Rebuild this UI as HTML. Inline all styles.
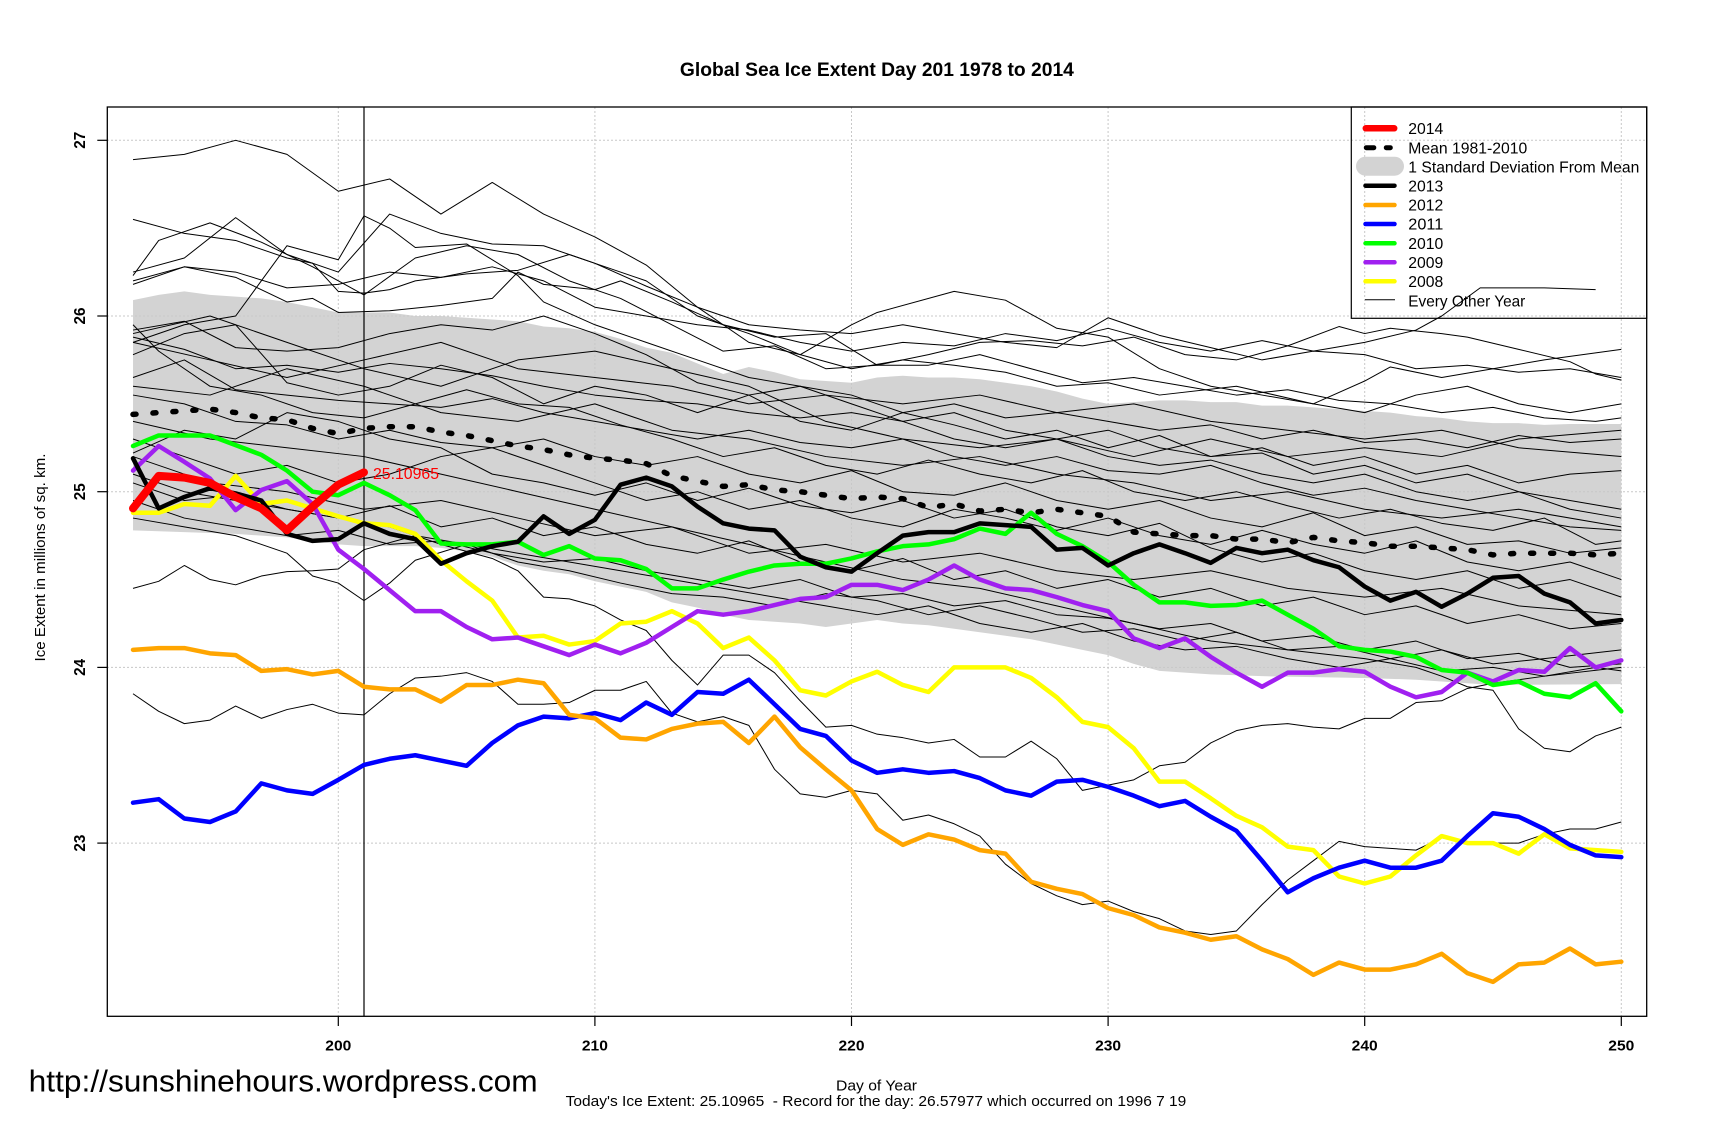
<!DOCTYPE html>
<html><head><meta charset="utf-8"><style>
html,body{margin:0;padding:0;background:#fff;}
svg{display:block;font-family:"Liberation Sans",Arial,sans-serif;}
.t{fill:none;stroke:#000;stroke-width:1;stroke-linejoin:round;}
.c{fill:none;stroke-linejoin:round;stroke-linecap:round;}
</style></head><body>
<svg width="1716" height="1143" viewBox="0 0 1716 1143" xmlns="http://www.w3.org/2000/svg">
<rect width="1716" height="1143" fill="#fff"/>
<defs><clipPath id="pc"><rect x="107.3" y="107" width="1539.4" height="909.3"/></clipPath></defs>

<g clip-path="url(#pc)">
<g transform="matrix(25.66 0 0 -175.7 -4793.7 4884.2)">
<polygon fill="#d3d3d3" stroke="none" points="192,26.09 193,26.12 194,26.14 195,26.12 196,26.11 197,26.10 198,26.08 199,26.05 200,26.02 201,26.02 202,26.02 203,26.0 204,26.0 205,25.99 206,25.98 207,25.97 208,25.94 209,25.93 210,25.91 211,25.87 212,25.82 213,25.79 214,25.73 215,25.67 216,25.71 217,25.68 218,25.64 219,25.63 220,25.62 221,25.65 222,25.66 223,25.65 224,25.65 225,25.64 226,25.62 227,25.60 228,25.57 229,25.53 230,25.50 231,25.51 232,25.52 233,25.52 234,25.51 235,25.51 236,25.49 237,25.49 238,25.48 239,25.47 240,25.46 241,25.45 242,25.43 243,25.42 244,25.40 245,25.39 246,25.39 247,25.38 248,25.385 249,25.385 250,25.385 250,23.905 245,23.90 244,23.91 242,23.93 240,23.94 238,23.945 236,23.95 235,23.955 234,23.96 233,23.97 232,23.98 231,24.02 230,24.07 229,24.10 228,24.13 227,24.16 226,24.18 225,24.20 224,24.22 223,24.24 222,24.25 221,24.27 220,24.25 219,24.23 218,24.25 217,24.26 216,24.27 215,24.30 214,24.34 213,24.37 212,24.43 211,24.46 210,24.49 209,24.53 208,24.55 207,24.58 206,24.63 205,24.66 204,24.68 203,24.69 202,24.69 201,24.69 200,24.70 198,24.74 196,24.76 194,24.77 192,24.78"/>
</g>
</g>

<!-- grid -->
<g stroke="#c8c8c8" stroke-width="1" stroke-dasharray="2 2" fill="none">
<line x1="338.3" y1="107" x2="338.3" y2="1016"/>
<line x1="594.9" y1="107" x2="594.9" y2="1016"/>
<line x1="851.5" y1="107" x2="851.5" y2="1016"/>
<line x1="1108.1" y1="107" x2="1108.1" y2="1016"/>
<line x1="1364.7" y1="107" x2="1364.7" y2="1016"/>
<line x1="1621.3" y1="107" x2="1621.3" y2="1016"/>
<line x1="107" y1="140.3" x2="1647" y2="140.3"/>
<line x1="107" y1="316" x2="1647" y2="316"/>
<line x1="107" y1="491.7" x2="1647" y2="491.7"/>
<line x1="107" y1="667.4" x2="1647" y2="667.4"/>
<line x1="107" y1="843.1" x2="1647" y2="843.1"/>
</g>

<g clip-path="url(#pc)">
<g transform="matrix(25.66 0 0 -175.7 -4793.7 4884.2)">
<polyline class="t" vector-effect="non-scaling-stroke" points="192,26.89 194,26.92 196,27.0 198,26.92 200,26.71 202,26.78 204,26.58 206,26.76 208,26.58 210,26.45 212,26.29 214,26.05 216,25.85 218,25.78 220,25.95 221,26.02 224,26.14 226,26.09 228,25.93 230,25.88 232,25.7 234,25.6 236,25.55 238,25.5 240,25.45 242,25.55 244,25.6 246,25.5 248,25.45 250,25.5"/>
<polyline class="t" vector-effect="non-scaling-stroke" points="192,26.55 194,26.47 196,26.43 198,26.33 199,26.3 200,26.14 201,26.13 202,26.15 203,26.2 205,26.24 207,26.26 209,26.35 210,26.3 212,26.17 214,26.05 216,25.95 218,25.92 220,25.9 222,25.95 224,25.9 226,25.85 228,25.82 230,25.99 232,25.89 234,25.82 236,25.75 238,25.8 240,25.78 242,25.7 244,25.72 246,25.68 248,25.7 250,25.65"/>
<polyline class="t" vector-effect="non-scaling-stroke" points="192,26.23 193,26.43 195,26.53 197,26.42 199,26.28 200,26.2 201,26.12 203,26.33 205,26.4 207,26.35 209,26.2 211,26.1 213,25.95 215,25.8 217,25.83 219,25.7 221,25.72 223,25.78 225,25.85 227,25.86 229,25.83 231,25.88 233,25.78 235,25.75 237,25.83 239,25.94 240,25.9 241,25.93 243,25.9 244,25.88 246,25.81 248,25.74 249,25.67 250,25.635"/>
<polyline class="t" vector-effect="non-scaling-stroke" points="192,26.25 194,26.33 196,26.56 198,26.35 200,26.25 202,26.58 204,26.47 206,26.41 208,26.4 210,26.3 212,26.2 214,26.0 216,25.9 218,25.78 220,25.7 222,25.75 224,25.72 226,25.68 228,25.6 230,25.62 232,25.55 235,25.6 238,25.5 240,25.63 241,25.71 243,25.65 245,25.7 247,25.75 250,25.81"/>
<polyline class="t" vector-effect="non-scaling-stroke" points="192,26.18 194,26.28 196,26.25 198,26.16 200,26.18 202,26.25 204,26.22 206,26.28 208,26.2 210,26.05 212,26.0 214,25.95 216,25.92 218,25.85 220,25.8 222,25.85 224,25.83 226,25.9 228,25.86 230,25.93 232,25.85 234,25.8 236,25.86 238,25.8 240,25.85 242,25.92 243,26.0 244.5,26.16 247,26.16 249,26.15"/>
<polyline class="t" vector-effect="non-scaling-stroke" points="192,25.85 194,25.95 196,26.0 198,26.4 200,26.32 201,26.57 202,26.5 203,26.39 205,26.41 207,26.23 208,26.08 210,25.95 212,25.85 214,25.75 216,25.65 218,25.6 220,25.55 222,25.45 224,25.5 226,25.42 228,25.45 230,25.4 232,25.35 234,25.38 236,25.3 238,25.35 240,25.28 242,25.3 244,25.25 246,25.32 248,25.28 250,25.3"/>
<polyline class="t" vector-effect="non-scaling-stroke" points="192,26.2 194,26.28 196,26.22 198,26.08 199,26.1 200,26.02 202,26.03 204,26.06 206,26.1 207,26.25 208,26.18 210,26.15 211,26.2 213,26.08 215,25.95 217,25.88 219,25.9 221,25.72 223,25.72 225,25.78 227,25.7 229,25.62 231,25.65 233,25.6 235,25.55 237,25.58 239,25.52 241,25.5 243,25.45 245,25.48 247,25.42 249,25.4 250,25.42"/>
<polyline class="t" vector-effect="non-scaling-stroke" points="192,25.92 194,25.97 196,25.82 198,25.8 200,25.82 202,25.9 204,25.95 206,25.92 208,26.0 210,25.9 212,25.78 214,25.62 216,25.55 218,25.6 220,25.5 222,25.4 224,25.45 226,25.35 228,25.3 230,25.35 232,25.25 234,25.2 236,25.22 238,25.1 240,25.15 242,25.05 244,25.1 246,25.0 248,24.95 250,24.9"/>
<polyline class="t" vector-effect="non-scaling-stroke" points="192,25.88 194,25.81 196,25.7 198,25.72 200,25.68 202,25.73 204,25.7 206,25.66 208,25.6 210,25.55 212,25.52 214,25.5 216,25.45 218,25.42 220,25.45 222,25.4 224,25.3 226,25.25 228,25.3 230,25.2 232,25.15 234,25.18 236,25.1 238,25.05 240,25.1 242,25.0 244,24.95 246,25.0 248,24.9 250,24.85"/>
<polyline class="t" vector-effect="non-scaling-stroke" points="192,25.65 194,25.75 196,25.58 198,25.55 200,25.52 202,25.5 204,25.48 206,25.53 208,25.45 210,25.4 212,25.35 214,25.3 216,25.35 218,25.28 220,25.25 222,25.3 224,25.2 226,25.15 228,25.2 230,25.12 232,25.1 234,25.15 236,25.05 238,24.98 240,25.02 242,24.95 244,24.9 246,24.85 248,24.8 250,24.78"/>
<polyline class="t" vector-effect="non-scaling-stroke" points="192,25.95 193,25.8 195,25.6 197,25.55 199,25.45 201,25.42 203,25.5 205,25.58 207,25.5 209,25.48 211,25.38 213,25.3 215,25.2 217,25.25 219,25.15 221,25.1 223,25.18 225,25.1 227,25.05 229,25.12 231,25.0 233,24.95 235,25.0 237,24.92 239,24.85 241,24.9 243,24.82 245,24.78 247,24.85 249,24.7 250,24.72"/>
<polyline class="t" vector-effect="non-scaling-stroke" points="192,25.78 194,25.9 196,25.95 198,25.62 200,25.55 202,25.6 204,25.72 206,25.65 208,25.5 210,25.6 212,25.55 214,25.45 216,25.55 218,25.4 220,25.35 222,25.45 224,25.38 226,25.3 228,25.35 230,25.25 232,25.32 234,25.2 236,25.25 238,25.15 240,25.2 242,25.1 244,25.15 246,25.05 248,25.1 250,25.12"/>
<polyline class="t" vector-effect="non-scaling-stroke" points="192,25.55 194,25.5 196,25.4 198,25.38 200,25.3 202,25.35 204,25.28 206,25.25 208,25.3 210,25.2 212,25.15 214,25.2 216,25.1 218,25.05 220,25.12 222,25.0 224,24.98 226,25.05 228,24.95 230,24.9 232,24.95 234,24.85 236,24.8 238,24.88 240,24.75 242,24.8 244,24.7 246,24.72 248,24.65 250,24.68"/>
<polyline class="t" vector-effect="non-scaling-stroke" points="192,25.3 194,25.2 196,25.1 198,25.15 200,25.05 202,25.1 204,25.2 206,25.25 208,25.15 210,25.05 212,24.95 214,25.0 216,24.9 218,24.95 220,24.85 222,24.8 224,24.9 226,24.85 228,24.78 230,24.85 232,24.75 234,24.7 236,24.78 238,24.7 240,24.65 242,24.72 244,24.6 246,24.55 248,24.6 250,24.5"/>
<polyline class="t" vector-effect="non-scaling-stroke" points="192,25.05 194,24.95 196,24.98 198,24.9 200,24.85 202,24.92 204,24.8 206,24.85 208,24.75 210,24.8 212,24.7 214,24.65 216,24.72 218,24.6 220,24.55 222,24.62 224,24.5 226,24.55 228,24.45 230,24.5 232,24.4 234,24.45 236,24.35 238,24.4 240,24.3 242,24.35 244,24.25 246,24.3 248,24.22 250,24.25"/>
<polyline class="t" vector-effect="non-scaling-stroke" points="192,24.95 194,24.85 196,24.8 198,24.75 200,24.78 202,24.7 204,24.72 206,24.65 208,24.6 210,24.62 212,24.55 214,24.5 216,24.45 218,24.5 220,24.4 222,24.42 224,24.35 226,24.38 228,24.3 230,24.28 232,24.22 234,24.25 236,24.15 238,24.18 240,24.1 242,24.15 244,24.05 246,24.08 248,24.0 250,24.02"/>
<polyline class="t" vector-effect="non-scaling-stroke" points="192,25.22 194,25.35 196,25.3 198,25.45 200,25.4 202,25.3 204,25.25 206,25.1 208,25.05 210,24.98 212,25.05 214,24.95 216,25.02 218,24.92 220,24.88 222,24.95 224,24.85 226,24.9 228,24.8 230,24.75 232,24.82 234,24.68 236,24.6 238,24.65 240,24.55 242,24.5 244,24.55 246,24.45 248,24.5 250,24.4"/>
<polyline class="t" vector-effect="non-scaling-stroke" points="192,24.45 193,24.49 194,24.58 195,24.50 196,24.47 197,24.52 198,24.545 199,24.55 200,24.56 201,24.67 203,24.75 205,24.7 207,24.65 209,24.6 211,24.55 213,24.5 215,24.45 217,24.4 219,24.35 221,24.3 223,24.35 225,24.25 227,24.2 229,24.25 231,24.15 233,24.1 235,24.12 237,24.05 239,24.0 241,24.05 243,23.98 245,24.0 247,23.95 249,24.0 250,23.98"/>
<polyline class="t" vector-effect="non-scaling-stroke" points="192,23.85 193,23.75 194,23.68 195,23.70 196,23.78 197,23.71 198,23.76 199,23.79 200,23.74 201,23.73 202,23.85 203,23.94 204,23.95 205,23.97 206,23.92 207,23.79 208,23.79 209,23.80 210,23.87 211,23.87 212,23.92 213,23.74 214,23.69 215,23.72 216,23.67 217,23.42 218,23.28 219,23.26 220,23.30 221,23.28 222,23.13 223,23.16 224,23.11 225,23.04 226,22.88 227,22.77 228,22.70 229,22.65 230,22.67 231,22.61 232,22.57 233,22.50 234,22.48 235,22.50 236,22.65 237,22.79 238,22.90 239,23.01 240,22.98 241,22.97 242,22.96 243,23.03 244,23.01 245,23.0 246,23.0 247,23.05 248,23.08 249,23.08 250,23.12"/>
<polyline class="t" vector-effect="non-scaling-stroke" points="192,24.85 194,24.8 196,24.75 198,24.65 199,24.52 200,24.48 201,24.38 202,24.48 203,24.61 205,24.7 207,24.6 209,24.55 211,24.48 213,24.42 215,24.4 217,24.35 219,24.42 221,24.38 223,24.3 225,24.35 227,24.28 229,24.2 231,24.22 233,24.15 235,24.2 237,24.1 239,24.12 241,24.05 243,24.1 245,24.02 247,24.05 250,24.1"/>
<polyline class="t" vector-effect="non-scaling-stroke" points="192,25.1 194,25.0 196,24.95 198,24.9 200,24.85 202,24.8 204,24.7 206,24.62 207,24.55 208,24.40 209,24.39 210,24.35 211,24.27 212,24.21 213,24.04 214,23.9 215,24.07 216,24.07 217,23.97 218,23.81 219,23.66 220,23.67 221,23.62 222,23.6 223,23.57 224,23.59 225,23.49 226,23.49 227,23.58 228,23.48 229,23.30 230,23.33 231,23.36 232,23.44 233,23.46 234,23.57 235,23.64 236,23.67 237,23.68 238,23.66 239,23.65 240,23.71 241,23.71 242,23.80 243,23.81 244,23.88 245,23.91 247,23.95 250,24.0"/>
<polyline class="t" vector-effect="non-scaling-stroke" points="192,25.4 195,25.3 198,25.25 201,25.2 204,25.1 207,25.0 210,24.9 213,24.8 216,24.7 219,24.6 222,24.5 225,24.45 228,24.35 231,24.25 234,24.15 237,24.1 240,24.05 242,24.0 243,23.95 244,23.89 245,23.87 246,23.65 247,23.54 248,23.52 249,23.61 250,23.66"/>
<polyline class="t" vector-effect="non-scaling-stroke" points="192,25.6 195,25.55 198,25.7 201,25.6 204,25.45 207,25.4 210,25.5 213,25.35 216,25.3 219,25.2 222,25.15 225,25.2 228,25.1 231,25.05 234,24.95 237,25.0 240,24.9 243,24.85 246,24.9 250,24.8"/>
<polyline class="t" vector-effect="non-scaling-stroke" points="192,25.85 195,25.75 198,25.65 201,25.75 204,25.85 207,25.7 210,25.65 213,25.6 216,25.5 219,25.55 222,25.5 225,25.55 228,25.45 231,25.5 234,25.4 237,25.35 240,25.3 243,25.35 246,25.25 250,25.2"/>
<polyline class="t" vector-effect="non-scaling-stroke" points="192,25.2 195,25.05 198,25.0 201,24.9 204,24.95 207,24.85 210,24.75 213,24.8 216,24.65 219,24.7 222,24.6 225,24.65 228,24.55 231,24.5 234,24.55 237,24.45 240,24.4 243,24.45 246,24.35 250,24.3"/>
<polyline class="t" vector-effect="non-scaling-stroke" points="192,25.9 195,26.0 198,25.85 201,25.7 204,25.6 207,25.75 210,25.8 213,25.7 216,25.6 219,25.4 222,25.3 225,25.25 228,25.3 231,25.2 234,25.3 237,25.2 240,25.25 243,25.2 246,25.3 250,25.35"/>
</g>
</g>

<!-- vertical line at day 201 -->
<line x1="364" y1="107" x2="364" y2="1016" stroke="#000" stroke-width="1.2"/>

<!-- mean line -->
<polyline fill="none" stroke="#000" stroke-width="5.5" stroke-linecap="round" stroke-linejoin="round" stroke-dasharray="3 17" points="133.0,414.4 158.7,412.6 184.3,410.9 210.0,409.1 235.7,412.6 261.3,417.9 287.0,419.7 312.6,428.4 338.3,433.7 364.0,428.4 389.6,426.7 415.3,426.7 440.9,432.0 466.6,435.5 492.3,440.7 517.9,446.0 543.6,449.5 569.2,454.8 594.9,458.3 620.6,460.1 646.2,463.6 671.9,475.9 697.5,481.2 723.2,486.4 748.9,484.7 774.5,489.9 800.2,491.7 825.8,495.2 851.5,498.7 877.2,497.0 902.8,498.7 928.5,507.5 954.1,504.0 979.8,511.0 1005.5,509.3 1031.1,512.8 1056.8,509.3 1082.4,512.8 1108.1,516.3 1133.8,532.1 1159.4,533.9 1185.1,535.6 1210.7,535.6 1236.4,539.1 1262.1,539.1 1287.7,542.7 1313.4,537.4 1339.0,540.9 1364.7,542.7 1390.4,546.2 1416.0,546.2 1441.7,547.9 1467.3,549.7 1493.0,554.9 1518.7,553.2 1544.3,553.2 1570.0,553.2 1595.6,554.9 1621.3,553.2"/>

<g clip-path="url(#pc)">
<g transform="matrix(25.66 0 0 -175.7 -4793.7 4884.2)">
<polyline class="c" vector-effect="non-scaling-stroke" stroke="#ffff00" stroke-width="4.5" points="192,24.88 193,24.88 194,24.93 195,24.92 196,25.09 197,24.93 198,24.95 199,24.905 200,24.86 201,24.82 202,24.81 203,24.76 204,24.61 205,24.49 206,24.38 207,24.17 208,24.18 209,24.13 210,24.15 211,24.25 212,24.26 213,24.32 214,24.25 215,24.11 216,24.17 217,24.04 218,23.87 219,23.84 220,23.92 221,23.975 222,23.90 223,23.86 224,24.0 225,24.0 226,24.0 227,23.94 228,23.83 229,23.69 230,23.66 231,23.54 232,23.35 233,23.35 234,23.255 235,23.155 236,23.09 237,22.98 238,22.96 239,22.81 240,22.77 241,22.81 242,22.93 243,23.04 244,23.0 245,23.0 246,22.94 247,23.05 248,22.97 249,22.96 250,22.95"/>
<polyline class="c" vector-effect="non-scaling-stroke" stroke="#a020f0" stroke-width="4.5" points="192,25.12 193,25.26 194,25.17 195,25.075 196,24.895 197,25.01 198,25.06 199,24.93 200,24.67 201,24.56 202,24.44 203,24.32 204,24.32 205,24.23 206,24.16 207,24.17 208,24.12 209,24.07 210,24.13 211,24.08 212,24.14 213,24.23 214,24.32 215,24.30 216,24.32 217,24.355 218,24.39 219,24.40 220,24.47 221,24.47 222,24.44 223,24.50 224,24.58 225,24.50 226,24.45 227,24.44 228,24.40 229,24.355 230,24.32 231,24.165 232,24.11 233,24.165 234,24.06 235,23.97 236,23.89 237,23.97 238,23.97 239,23.99 240,23.975 241,23.89 242,23.83 243,23.86 244,23.97 245,23.92 246,23.985 247,23.975 248,24.11 249,24.0 250,24.04"/>
<polyline class="c" vector-effect="non-scaling-stroke" stroke="#00ff00" stroke-width="4.5" points="192,25.26 193,25.32 194,25.32 195,25.32 196,25.265 197,25.21 198,25.12 199,25.0 200,24.98 201,25.05 202,24.98 203,24.895 204,24.705 205,24.70 206,24.70 207,24.715 208,24.64 209,24.69 210,24.62 211,24.61 212,24.56 213,24.45 214,24.45 215,24.50 216,24.545 217,24.58 218,24.59 219,24.59 220,24.62 221,24.66 222,24.69 223,24.70 224,24.73 225,24.79 226,24.76 227,24.88 228,24.76 229,24.69 230,24.60 231,24.47 232,24.37 233,24.37 234,24.35 235,24.355 236,24.38 237,24.30 238,24.22 239,24.12 240,24.10 241,24.09 242,24.06 243,23.985 244,23.97 245,23.90 246,23.92 247,23.85 248,23.83 249,23.91 250,23.75"/>
<polyline class="c" vector-effect="non-scaling-stroke" stroke="#0000ff" stroke-width="4.5" points="192,23.23 193,23.25 194,23.14 195,23.12 196,23.18 197,23.34 198,23.30 199,23.28 200,23.36 201,23.445 202,23.48 203,23.50 204,23.47 205,23.44 206,23.57 207,23.67 208,23.72 209,23.71 210,23.74 211,23.70 212,23.80 213,23.73 214,23.86 215,23.85 216,23.93 217,23.79 218,23.65 219,23.61 220,23.47 221,23.40 222,23.42 223,23.40 224,23.41 225,23.37 226,23.30 227,23.27 228,23.35 229,23.36 230,23.32 231,23.27 232,23.21 233,23.24 234,23.15 235,23.07 236,22.90 237,22.72 238,22.80 239,22.86 240,22.90 241,22.86 242,22.86 243,22.90 244,23.04 245,23.17 246,23.15 247,23.08 248,22.99 249,22.93 250,22.92"/>
<polyline class="c" vector-effect="non-scaling-stroke" stroke="#ffa500" stroke-width="4.5" points="192,24.10 193,24.11 194,24.11 195,24.08 196,24.07 197,23.98 198,23.99 199,23.96 200,23.98 201,23.89 202,23.875 203,23.875 204,23.805 205,23.90 206,23.90 207,23.93 208,23.91 209,23.73 210,23.71 211,23.60 212,23.59 213,23.65 214,23.68 215,23.69 216,23.57 217,23.72 218,23.545 219,23.42 220,23.30 221,23.08 222,22.99 223,23.05 224,23.02 225,22.96 226,22.94 227,22.78 228,22.74 229,22.71 230,22.63 231,22.59 232,22.52 233,22.49 234,22.45 235,22.47 236,22.395 237,22.34 238,22.25 239,22.32 240,22.28 241,22.28 242,22.31 243,22.37 244,22.26 245,22.21 246,22.31 247,22.32 248,22.40 249,22.31 250,22.325"/>
<polyline class="c" vector-effect="non-scaling-stroke" stroke="#000000" stroke-width="4.5" points="192,25.19 193,24.905 194,24.97 195,25.02 196,24.99 197,24.95 198,24.76 199,24.72 200,24.73 201,24.82 202,24.76 203,24.73 204,24.59 205,24.65 206,24.69 207,24.715 208,24.86 209,24.76 210,24.84 211,25.04 212,25.08 213,25.03 214,24.915 215,24.82 216,24.79 217,24.78 218,24.63 219,24.57 220,24.545 221,24.65 222,24.75 223,24.77 224,24.77 225,24.82 226,24.81 227,24.80 228,24.67 229,24.68 230,24.58 231,24.65 232,24.70 233,24.65 234,24.595 235,24.68 236,24.65 237,24.67 238,24.61 239,24.57 240,24.46 241,24.38 242,24.43 243,24.345 244,24.42 245,24.51 246,24.52 247,24.42 248,24.37 249,24.25 250,24.27"/>
<polyline class="c" vector-effect="non-scaling-stroke" stroke="#ff0000" stroke-width="8" points="192,24.905 193,25.09 194,25.08 195,25.05 196,24.97 197,24.905 198,24.78 199,24.915 200,25.04 201,25.11"/>
</g>
</g>

<text x="373" y="479" font-size="16" fill="#ff0000" textLength="66" lengthAdjust="spacingAndGlyphs">25.10965</text>

<!-- plot box -->
<rect x="107.3" y="107" width="1539.4" height="909.3" fill="none" stroke="#000" stroke-width="1.3"/>

<!-- ticks -->
<g stroke="#000" stroke-width="1.2">
<line x1="338.3" y1="1016" x2="338.3" y2="1026"/>
<line x1="594.9" y1="1016" x2="594.9" y2="1026"/>
<line x1="851.5" y1="1016" x2="851.5" y2="1026"/>
<line x1="1108.1" y1="1016" x2="1108.1" y2="1026"/>
<line x1="1364.7" y1="1016" x2="1364.7" y2="1026"/>
<line x1="1621.3" y1="1016" x2="1621.3" y2="1026"/>
<line x1="97.3" y1="140.3" x2="107.3" y2="140.3"/>
<line x1="97.3" y1="316" x2="107.3" y2="316"/>
<line x1="97.3" y1="491.7" x2="107.3" y2="491.7"/>
<line x1="97.3" y1="667.4" x2="107.3" y2="667.4"/>
<line x1="97.3" y1="843.1" x2="107.3" y2="843.1"/>
</g>

<g font-size="15" font-weight="bold" text-anchor="middle" fill="#000">
<text x="338.3" y="1050.7" textLength="26" lengthAdjust="spacingAndGlyphs">200</text>
<text x="594.9" y="1050.7" textLength="26" lengthAdjust="spacingAndGlyphs">210</text>
<text x="851.5" y="1050.7" textLength="26" lengthAdjust="spacingAndGlyphs">220</text>
<text x="1108.1" y="1050.7" textLength="26" lengthAdjust="spacingAndGlyphs">230</text>
<text x="1364.7" y="1050.7" textLength="26" lengthAdjust="spacingAndGlyphs">240</text>
<text x="1621.3" y="1050.7" textLength="26" lengthAdjust="spacingAndGlyphs">250</text>
</g>
<g font-size="16" font-weight="bold" text-anchor="middle" fill="#000">
<text transform="translate(85,140.3) rotate(-90)" textLength="17" lengthAdjust="spacingAndGlyphs">27</text>
<text transform="translate(85,316) rotate(-90)" textLength="17" lengthAdjust="spacingAndGlyphs">26</text>
<text transform="translate(85,491.7) rotate(-90)" textLength="17" lengthAdjust="spacingAndGlyphs">25</text>
<text transform="translate(85,667.4) rotate(-90)" textLength="17" lengthAdjust="spacingAndGlyphs">24</text>
<text transform="translate(85,843.1) rotate(-90)" textLength="17" lengthAdjust="spacingAndGlyphs">23</text>
</g>

<text transform="translate(45,557.5) rotate(-90)" font-size="15" text-anchor="middle" textLength="208" lengthAdjust="spacingAndGlyphs">Ice Extent in millions of sq. km.</text>

<text x="876.9" y="76" font-size="19" font-weight="bold" text-anchor="middle" textLength="394" lengthAdjust="spacingAndGlyphs">Global Sea Ice Extent Day 201 1978 to 2014</text>

<!-- legend -->
<rect x="1351.3" y="107" width="295.4" height="211.3" fill="none" stroke="#000" stroke-width="1.2"/>
<g stroke-linecap="round" fill="none">
<line x1="1365.8" y1="128.3" x2="1394.2" y2="128.3" stroke="#ff0000" stroke-width="6.5"/>
<line x1="1366.3" y1="147.7" x2="1373.8" y2="147.7" stroke="#000" stroke-width="5"/>
<line x1="1386.3" y1="147.7" x2="1390.3" y2="147.7" stroke="#000" stroke-width="5"/>
<line x1="1365.5" y1="166.2" x2="1394.5" y2="166.2" stroke="#d3d3d3" stroke-width="19"/>
<line x1="1365.5" y1="185.7" x2="1394.5" y2="185.7" stroke="#000" stroke-width="4.5"/>
<line x1="1365.5" y1="205" x2="1394.5" y2="205" stroke="#ffa500" stroke-width="4.5"/>
<line x1="1365.5" y1="224" x2="1394.5" y2="224" stroke="#0000ff" stroke-width="4.5"/>
<line x1="1365.5" y1="243.3" x2="1394.5" y2="243.3" stroke="#00ff00" stroke-width="4.5"/>
<line x1="1365.5" y1="262.3" x2="1394.5" y2="262.3" stroke="#a020f0" stroke-width="4.5"/>
<line x1="1365.5" y1="281.3" x2="1394.5" y2="281.3" stroke="#ffff00" stroke-width="4.5"/>
<line x1="1365" y1="299.7" x2="1395" y2="299.7" stroke="#000" stroke-width="1" stroke-linecap="butt"/>
</g>
<g font-size="16" fill="#000">
<text x="1408.3" y="134" textLength="35" lengthAdjust="spacingAndGlyphs">2014</text>
<text x="1408.3" y="153.4" textLength="119" lengthAdjust="spacingAndGlyphs">Mean 1981-2010</text>
<text x="1408.3" y="172.4" textLength="231" lengthAdjust="spacingAndGlyphs">1 Standard Deviation From Mean</text>
<text x="1408.3" y="191.4" textLength="35" lengthAdjust="spacingAndGlyphs">2013</text>
<text x="1408.3" y="210.7" textLength="35" lengthAdjust="spacingAndGlyphs">2012</text>
<text x="1408.3" y="229.7" textLength="35" lengthAdjust="spacingAndGlyphs">2011</text>
<text x="1408.3" y="249" textLength="35" lengthAdjust="spacingAndGlyphs">2010</text>
<text x="1408.3" y="268" textLength="35" lengthAdjust="spacingAndGlyphs">2009</text>
<text x="1408.3" y="287" textLength="35" lengthAdjust="spacingAndGlyphs">2008</text>
<text x="1408.3" y="306.4" textLength="117" lengthAdjust="spacingAndGlyphs">Every Other Year</text>
</g>

<!-- footer -->
<text x="28.7" y="1091.7" font-size="31" textLength="509" lengthAdjust="spacingAndGlyphs">http://sunshinehours.wordpress.com</text>
<text x="876.5" y="1090.5" font-size="15" text-anchor="middle" textLength="81" lengthAdjust="spacingAndGlyphs">Day of Year</text>
<text x="876" y="1106" font-size="15" text-anchor="middle" textLength="620.6" lengthAdjust="spacingAndGlyphs" style="white-space:pre">Today's Ice Extent: 25.10965  - Record for the day: 26.57977 which occurred on 1996 7 19</text>
</svg>
</body></html>
